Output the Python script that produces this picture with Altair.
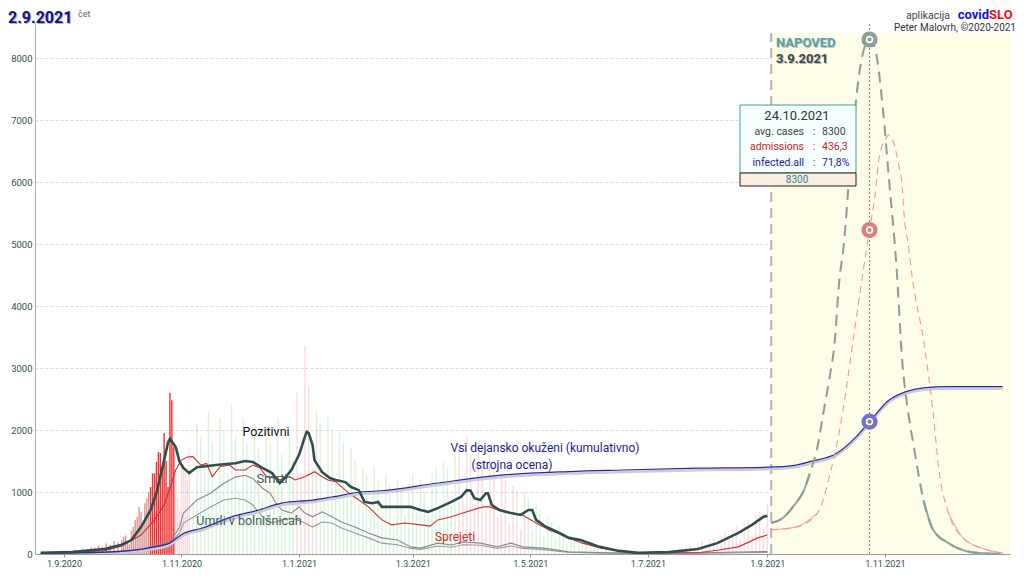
import altair as alt
import pandas as pd

# ---------------- data (days are offsets from 1.9.2020) ----------------
BASE = "2020-09-01"

pos_days = [-12,4,21,30,35,40,45,48,52,54,55,58,60,62,65,69,79,89,94,98,103,108,112,115,118,122,125,126,127,129,
            130,134,138,141,146,149,153,156,160,163,165,173,180,185,189,194,201,206,209,211,213,216,219,220,222,226,
            232,237,241,243,245,250,256,262,268,278,288,298,314,329,339,350,357,363,365]
pos_vals = [20,30,80,150,225,435,710,980,1515,1800,1860,1725,1485,1390,1305,1400,1435,1465,1500,1485,1390,1305,1145,
            1240,1355,1600,1890,1970,1950,1760,1515,1320,1225,1195,1160,1080,1030,840,820,840,760,760,760,710,680,740,
            840,920,1030,1020,900,870,980,980,790,710,660,630,710,710,550,440,355,260,225,115,50,20,30,80,175,340,470,
            600,615]

adm_days = [-12,21,30,40,47,52,55,58,61,64,67,71,74,77,81,86,89,94,98,102,105,110,113,117,120,125,130,134,137,141,
            144,148,153,158,165,170,177,185,190,194,201,207,215,218,221,225,232,238,245,252,259,262,269,278,295,329,
            339,350,360,365]
adm_vals = [15,50,130,305,550,790,1065,1355,1515,1565,1570,1435,1462,1247,1409,1435,1355,1355,1435,1382,1247,1220,
            1194,1247,1194,1247,1328,1247,1194,1167,1086,979,871,760,550,470,500,470,450,550,600,660,740,760,760,710,
            660,630,500,385,305,260,175,100,20,20,60,115,260,305]

deaths_days = [-12,21,40,47,55,60,62,69,76,83,89,94,98,103,107,110,113,118,122,125,129,134,139,144,151,158,165,173,
               180,185,194,201,207,216,225,232,238,249,262,290,330,365]
deaths_vals = [5,20,60,145,190,435,660,870,980,1140,1240,1270,1220,1060,980,820,710,660,760,660,600,680,600,515,435,
               340,260,225,115,95,175,145,195,175,115,175,115,95,35,15,20,40]

hosp_deaths_days = [-12,21,40,47,55,60,62,69,76,83,89,94,98,103,108,113,118,124,129,134,139,144,151,158,165,173,180,
                    185,194,201,207,216,225,232,238,249,262,290,330,365]
hosp_deaths_vals = [3,12,45,95,170,340,500,630,760,870,900,870,790,600,500,550,580,515,435,515,500,420,340,260,175,
                    150,90,75,130,110,150,140,90,130,90,70,25,8,12,25]

inf_days = [-12,21,47,55,62,72,87,100,113,129,139,154,165,194,228,262,290,329,365,
            380,387,401,411,418,428,437,446,459,487]
inf_vals = [15,30,115,180,330,420,600,700,820,870,920,1000,1020,1145,1275,1330,1355,1385,1400,
            1435,1490,1625,1890,2135,2480,2620,2680,2700,2700]

fc_pos_days = [367,373,379,384,387,391,394,397,400,402,405,407,410,412,415,418,421,425,428,432,435,438,441,446,451,
               459,471,486]
fc_pos_vals = [500,580,790,1030,1300,1730,2270,2800,3450,4300,5100,5900,7000,7600,8130,8300,8130,7160,6080,4630,3100,
               2300,1725,870,390,175,30,0]

fc_adm_days = [367,380,391,398,404,409,413,415,418,421,423,427,428,430,433,435,436,438,440,446,451,454,459,466,476,487]
fc_adm_vals = [390,435,660,1355,2270,3340,4200,4630,5226,5820,6400,6730,6760,6680,6300,5920,5440,5020,4500,3450,2270,
               1355,660,275,95,15]

# daily bars
bars_early_vals = [20,30,25,40,30,45,40,55,50,70,60,85,80,110,100,140,120,170,150,210,190]          # d -12..28 step 2
bars_oct_vals = [230,280,300,200,160,380,435,550,600,760,680,500,820,900,1000,1080,1300,1300,1485,1645,
                 1630,1355,1950,1500,1080,2600,2480,1725,1300,900,700,1500,1450,1300,1200]            # d 30..64 daily
bars_late_vals = [1700,900,2100,1900,1400,2300,1800,1100,2200,2000,
                  1300,2400,1900,1000,2200,1800,1200,2100,1700,900,
                  2000,1800,1100,2200,1600,800,1900,1500,2600,1300,
                  3350,2700,1400,2300,2100,900,2200,2000,1200,2000,
                  1800,900,1700,1500,800,1400,1300,700,1400,1200,
                  600,1300,1100,500,1200,1000,600,1100,1300,700,
                  1200,1000,600,1300,1400,700,1500,1400,800,1600,
                  1700,900,1900,1600,800,1800,1500,700,1600,1400,
                  600,1300,1200,500,1100,1000,400,1000,900,400,
                  800,700,300,600,500,250,450,350,150,300,
                  250,120,200,150,80,130,100,50,80,60,
                  40,50,40,20,30,25,15,30,25,15,
                  30,40,20,50,60,30,80,90,50,120,
                  130,80,170,200,100,240,260,150,300,350,
                  200,400,450,250,500,560,300,620,680,400,800]                                       # d 65..365 step 2
period_start_days = [-12, 45, 58, 67, 120, 132, 205, 241, 301]
period_kinds = ["m", "r", "p", "g", "p", "g", "p", "g", "p"]

marker_date = "2021-10-24"
marker_vals = [8300, 5226, 2135]
marker_colors = ["#8e9e9c", "#d98080", "#7373c9"]

y_ticks = [0, 1000, 2000, 3000, 4000, 5000, 6000, 7000, 8000]
x_tick_dates = [(2020, 9), (2020, 11), (2021, 1), (2021, 3), (2021, 5), (2021, 7), (2021, 9), (2021, 11)]

# ---------------- helpers ----------------
FONT = "Roboto"
base = pd.Timestamp(BASE)


def to_date(d):
    return (base + pd.Timedelta(days=int(d))).strftime("%Y-%m-%d")


def frame(days, vals):
    return pd.DataFrame({"date": [to_date(d) for d in days], "v": vals})


XS = alt.Scale(type="utc", domain=[alt.DateTime(year=2020, month=8, date=19, hours=14, utc=True),
                                   alt.DateTime(year=2022, month=1, date=2, hours=7, utc=True)])
YS = alt.Scale(domain=[0, 8550], nice=False, zero=True)
XAX = alt.Axis(values=[alt.DateTime(year=y, month=m, date=1, utc=True) for y, m in x_tick_dates],
               labelExpr="utcFormat(datum.value, '%-d.%-m.%Y')", title=None, grid=False, labelFlush=False,
               domainColor="#9a9a9a", tickColor="#9a9a9a", tickSize=3, labelFontSize=9,
               labelColor="#2f4f4f", labelFont=FONT, labelPadding=2)
YAX = alt.Axis(values=y_ticks, title=None, grid=True, gridColor="#d0d0d0", gridDash=[3, 2], gridWidth=0.8,
               labelExpr="format(datum.value, 'd')",
               ticks=False, domainColor="#b0b0b0", labelFontSize=9.5, labelColor="#2f4f4f",
               labelFont=FONT, labelPadding=3)


def X(field="date"):
    return alt.X(f"{field}:T", scale=XS, axis=XAX)


def Y(field="v"):
    return alt.Y(f"{field}:Q", scale=YS, axis=YAX)


def line(df, color, width, dash=None, opacity=1.0, interp="linear", detail=None, yoffset=None):
    kw = dict(color=color, strokeWidth=width, opacity=opacity, interpolate=interp, clip=True)
    if dash:
        kw["strokeDash"] = dash
    if yoffset:
        kw["yOffset"] = yoffset
    enc = dict(x=X(), y=Y())
    if detail:
        enc["detail"] = alt.Detail(f"{detail}:N")
    return alt.Chart(df).mark_line(**kw).encode(**enc)


one = pd.DataFrame({"k": [0]})


def label(txt, x, y, size=12, color="#000", weight="normal", align="center", baseline="middle"):
    return alt.Chart(one).mark_text(text=txt, fontSize=size, color=color, fontWeight=weight, align=align,
                                    baseline=baseline, font=FONT).encode(x=alt.value(x), y=alt.value(y))


def box(x, x2, y, y2, fill, stroke, sw=1):
    return alt.Chart(one).mark_rect(fill=fill, stroke=stroke, strokeWidth=sw).encode(
        x=alt.value(x), x2=alt.value(x2), y=alt.value(y), y2=alt.value(y2))


# ---------------- bar table ----------------
bar_days = list(range(-12, 29, 2)) + list(range(30, 65)) + list(range(65, 366, 2))
bar_vals = bars_early_vals + bars_oct_vals + bars_late_vals


def kind_for(d):
    k = period_kinds[0]
    for s, kk in zip(period_start_days, period_kinds):
        if d >= s:
            k = kk
    return k


bars = frame(bar_days, bar_vals)
bars["kind"] = [kind_for(d) for d in bar_days]

# forecast tails (solid parts)
fpos = frame(fc_pos_days, fc_pos_vals)
fpos["seg"] = [("L" if d < 418 and v <= 1300 else ("R" if d > 418 and v <= 900 else None))
               for d, v in zip(fc_pos_days, fc_pos_vals)]
fpos_tail = fpos.dropna(subset=["seg"])
fadm = frame(fc_adm_days, fc_adm_vals)
fadm["seg"] = [("L" if d < 418 and v <= 1000 else ("R" if d > 418 and v <= 800 else None))
               for d, v in zip(fc_adm_days, fc_adm_vals)]
fadm_tail = fadm.dropna(subset=["seg"])

# ---------------- layers ----------------
yellow = alt.Chart(pd.DataFrame({"date": ["2021-09-03"], "date2": ["2022-01-10"], "v": [8400], "v2": [0]})) \
    .mark_rect(color="#fdfde8", clip=True).encode(x=X(), x2="date2:T", y=Y(), y2="v2:Q")

bar_layer = alt.Chart(bars).mark_bar(width=1.4).encode(
    x=X(), y=Y(),
    color=alt.Color("kind:N", legend=None,
                    scale=alt.Scale(domain=["m", "r", "p", "g"],
                                    range=["rgba(195,80,80,0.6)", "rgba(238,30,30,0.92)",
                                           "rgba(240,130,130,0.28)", "rgba(120,215,120,0.28)"])))

fc_start = alt.Chart(pd.DataFrame({"date": ["2021-09-03"], "v": [0], "v2": [8400]})).mark_rule(
    color="#b4b4b4", strokeWidth=2, strokeDash=[10, 6]).encode(x=X(), y=Y(), y2="v2:Q")
peak_rule = alt.Chart(pd.DataFrame({"date": [marker_date]})).mark_rule(
    color="#888888", strokeWidth=1, strokeDash=[2, 2]).encode(x=X())

layers = [
    yellow,
    bar_layer,
    fc_start,
    peak_rule,
    line(frame(hosp_deaths_days, hosp_deaths_vals), "#9a9a9a", 1.1),
    line(frame(deaths_days, deaths_vals), "#8a8a8a", 1.1),
    line(frame(adm_days, adm_vals), "#cc3030", 1.1),
    line(frame(inf_days, inf_vals), "#cccccc", 2.5, interp="monotone", yoffset=2),
    line(frame(inf_days, inf_vals), "#2626b0", 1.2, interp="monotone"),
    line(frame(pos_days, pos_vals), "#2f4f4f", 2.6),
    line(fadm_tail, "#eeaaaa", 1.1, interp="monotone", detail="seg"),
    line(fadm, "#e89a9a", 1.1, dash=[7, 5], interp="monotone"),
    line(fpos_tail, "#93a8a3", 2, interp="monotone", detail="seg"),
    line(fpos, "#8c9d99", 2, dash=[11, 7], interp="monotone"),
]

for mv, mc in zip(marker_vals, marker_colors):
    mdf = pd.DataFrame({"date": [marker_date], "v": [mv]})
    layers.append(alt.Chart(mdf).mark_point(filled=True, size=260, opacity=1, shape="circle", color=mc)
                  .encode(x=X(), y=Y()))
    layers.append(alt.Chart(mdf).mark_point(filled=False, size=34, opacity=1, shape="circle",
                                            color="white", strokeWidth=1.6).encode(x=X(), y=Y()))

# series labels (pixel positions relative to plot area)
layers += [
    label("Pozitivni", 231, 408, 12.5, "#111111"),
    label("Smrti", 237, 455, 13, "#3d5c5c"),
    label("Umrli v bolnišnicah", 214, 497, 12.5, "#3d5c5c"),
    label("Sprejeti", 420, 513, 12, "#cc2a2a"),
    label("Vsi dejansko okuženi (kumulativno)", 510, 424, 12, "#1c1c96"),
    label("(strojna ocena)", 477, 441, 12, "#1c1c96"),
    label("NAPOVED", 742, 20, 13, "#b9c9c9", "bold", "left"),
    label("NAPOVED", 741, 19, 13, "#5f9ea0", "bold", "left"),
    label("3.9.2021", 742, 36, 13, "#b9b9b9", "bold", "left"),
    label("3.9.2021", 741, 35, 13, "#3a4a4a", "bold", "left"),
]

# header texts
layers += [
    label("2.9.2021", -26, 0, 16, "#b0b0c8", "bold", "left", "alphabetic"),
    label("2.9.2021", -27, -1, 16, "#12128c", "bold", "left", "alphabetic"),
    label("čet", 43, -7, 9, "#666666", "normal", "left", "alphabetic"),
    label("aplikacija", 915, -5, 10.5, "#444444", "normal", "right", "alphabetic"),
    label("covid", 954, -5, 13, "#1010ee", "bold", "right", "alphabetic"),
    label("SLO", 954, -5, 13, "#ee1010", "bold", "left", "alphabetic"),
    label("Peter Malovrh, ©2020-2021", 981, 4, 10, "#333333", "normal", "right"),
]

# tooltip box
layers += [
    box(705, 821, 81, 149, "#f5fffe", "#3a9e9e"),
    box(705, 821, 149, 162, "#fbeee0", "#222222"),
    label("24.10.2021", 762, 92, 13, "#333333"),
    label("avg. cases", 769, 108, 10.5, "#444444", "normal", "right"),
    label(":", 779, 108, 10.5, "#444444"),
    label("8300", 787, 108, 10.5, "#444444", "normal", "left"),
    label("admissions", 769, 123, 10.5, "#cc2222", "normal", "right"),
    label(":", 779, 123, 10.5, "#cc2222"),
    label("436,3", 787, 123, 10.5, "#cc2222", "normal", "left"),
    label("infected.all", 769, 139, 10.5, "#1c1c9c", "normal", "right"),
    label(":", 779, 139, 10.5, "#1c1c9c"),
    label("71,8%", 787, 139, 10.5, "#1c1c9c", "normal", "left"),
    label("8300", 762, 156, 10, "#2a8a8a"),
]

chart = alt.layer(*layers).properties(
    width=975, height=530,
    autosize=alt.AutoSizeParams(type="none"),
    padding={"left": 27, "top": 16, "right": 6, "bottom": 14},
    background="white",
).configure_view(stroke=None)

chart.save("out.html", embed_options={"renderer": "svg", "actions": False})
